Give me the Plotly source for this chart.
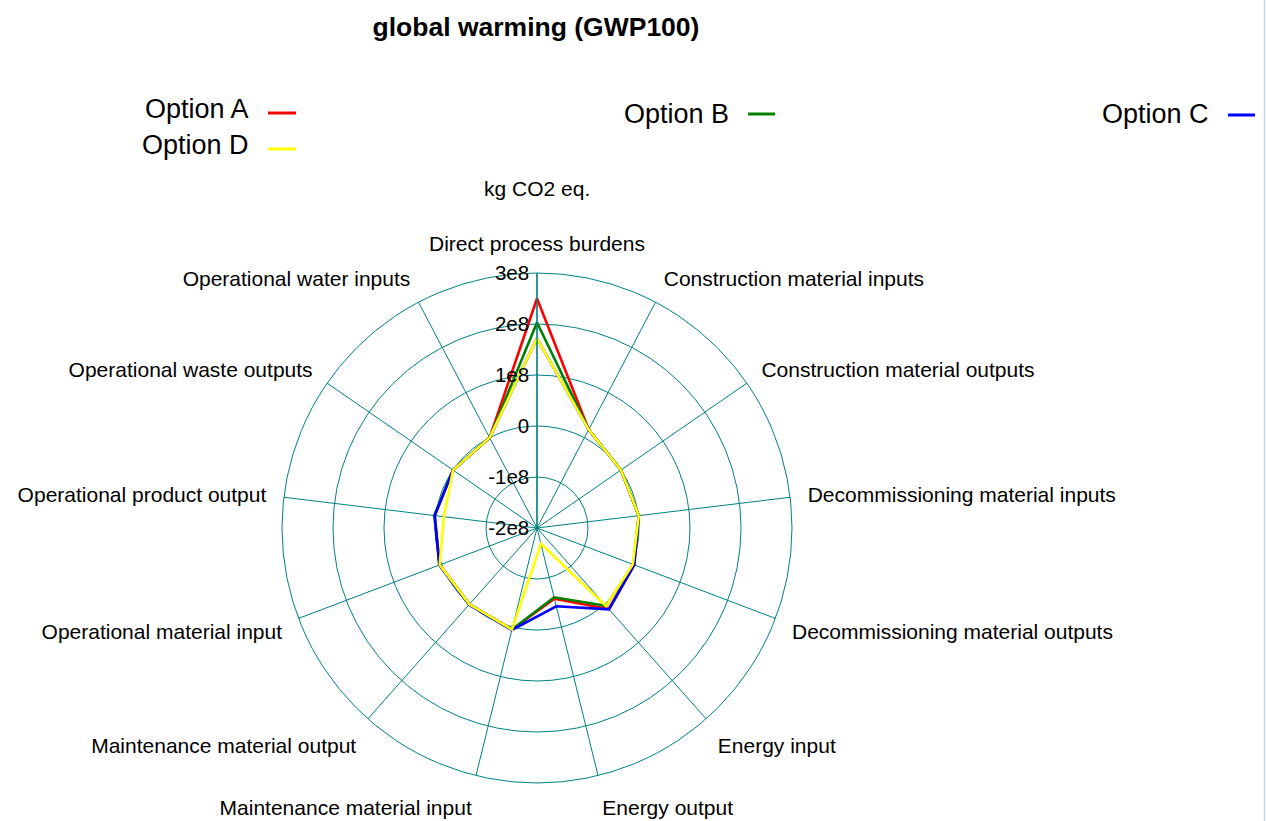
import plotly.graph_objects as go

# ---------------- data ----------------
categories = [
    "Direct process burdens",
    "Construction material inputs",
    "Construction material outputs",
    "Decommissioning material inputs",
    "Decommissioning material outputs",
    "Energy input",
    "Energy output",
    "Maintenance material input",
    "Maintenance material output",
    "Operational material input",
    "Operational product output",
    "Operational waste outputs",
    "Operational water inputs",
]

series_names = ["Option A", "Option B", "Option C", "Option D"]
series_colors = ["#FF0000", "#008000", "#0000FF", "#FFFF00"]

option_a = [2.50e8, 0.18e8, 0.00e8, 0.01e8, 0.04e8, 0.12e8, -0.57e8, 0.05e8, 0.00e8, 0.04e8, 0.02e8, 0.00e8, 0.00e8]
option_b = [2.03e8, 0.18e8, 0.00e8, 0.01e8, 0.02e8, 0.04e8, -0.60e8, 0.05e8, 0.00e8, 0.04e8, 0.03e8, 0.00e8, 0.00e8]
option_c = [1.72e8, 0.18e8, 0.00e8, 0.01e8, 0.04e8, 0.13e8, -0.42e8, 0.06e8, 0.01e8, 0.05e8, 0.02e8, 0.00e8, 0.00e8]
option_d = [1.72e8, 0.18e8, 0.00e8, 0.01e8, 0.01e8, 0.04e8, -1.68e8, 0.05e8, 0.00e8, 0.04e8, -0.16e8, 0.00e8, 0.00e8]
series_values = [option_a, option_b, option_c, option_d]

radial_tickvals = [-2e8, -1e8, 0, 1e8, 2e8, 3e8]
radial_ticktext = ["-2e8", "-1e8", "0", "1e8", "2e8", "3e8"]

title_text = "global warming (GWP100)"
unit_text = "kg CO2 eq."

# ---------------- figure ----------------
W, H = 1266, 821
FONT = "Liberation Sans, Arial, sans-serif"
GRID = "#008080"

fig = go.Figure()
for name, color, vals in zip(series_names, series_colors, series_values):
    fig.add_trace(go.Scatterpolar(
        r=vals + vals[:1],
        theta=categories + categories[:1],
        mode="lines",
        name=name,
        line=dict(color=color, width=2.6),
        showlegend=False,
    ))

cx, cy, R = 537, 528, 255
fig.update_layout(
    width=W, height=H,
    margin=dict(l=0, r=0, t=0, b=0),
    paper_bgcolor="white",
    plot_bgcolor="white",
    font=dict(family=FONT, color="black"),
    title=dict(text="<b>%s</b>" % title_text, x=536 / W, xanchor="center",
               y=1 - 27 / H, yanchor="middle",
               font=dict(family=FONT, size=26.5, color="black")),
    polar=dict(
        domain=dict(x=[(cx - R) / W, (cx + R) / W], y=[(H - cy - R) / H, (H - cy + R) / H]),
        bgcolor="white",
        angularaxis=dict(
            type="category",
            categoryorder="array",
            categoryarray=categories,
            direction="clockwise",
            rotation=90,
            showgrid=True,
            gridcolor=GRID,
            gridwidth=1.3,
            showline=True,
            linecolor=GRID,
            linewidth=1,
            ticks="outside",
            ticklen=13,
            tickcolor="rgba(0,0,0,0)",
            tickfont=dict(family=FONT, size=21, color="black"),
        ),
        radialaxis=dict(
            range=[-2e8, 3e8],
            tickvals=radial_tickvals,
            ticktext=radial_ticktext,
            angle=90,
            tickangle=90,
            side="counterclockwise",
            showgrid=True,
            gridcolor=GRID,
            gridwidth=1.3,
            showline=True,
            linecolor=GRID,
            linewidth=1.3,
            ticks="",
            tickfont=dict(family=FONT, size=20.5, color="black"),
        ),
    ),
)

# unit label
fig.add_annotation(text=unit_text, x=537 / W, y=1 - 188 / H, xref="paper", yref="paper",
                   xanchor="center", yanchor="middle", showarrow=False,
                   font=dict(family=FONT, size=21, color="black"))

# custom legend: text followed by a short line sample
legend_pos = {  # name: (text right edge px, text centre y px, line x0, line x1, line y)
    "Option A": (251, 109, 268, 296, 113),
    "Option B": (731, 114, 748, 775, 114),
    "Option C": (1211, 114, 1228, 1255, 115),
    "Option D": (251, 145, 268, 296, 149),
}
for name, color in zip(series_names, series_colors):
    tx, ty, lx0, lx1, ly = legend_pos[name]
    fig.add_annotation(text=name, x=tx / W, y=1 - ty / H, xref="paper", yref="paper",
                       xanchor="right", yanchor="middle", showarrow=False,
                       font=dict(family=FONT, size=27, color="black"))
    fig.add_shape(type="line", xref="paper", yref="paper",
                  x0=lx0 / W, x1=lx1 / W, y0=1 - ly / H, y1=1 - ly / H,
                  line=dict(color=color, width=3))

# window border at right edge
fig.add_shape(type="line", xref="paper", yref="paper", x0=1264.5 / W, x1=1264.5 / W,
              y0=0, y1=1, line=dict(color="#c8d2da", width=1.5))

fig.write_html("out.html")
